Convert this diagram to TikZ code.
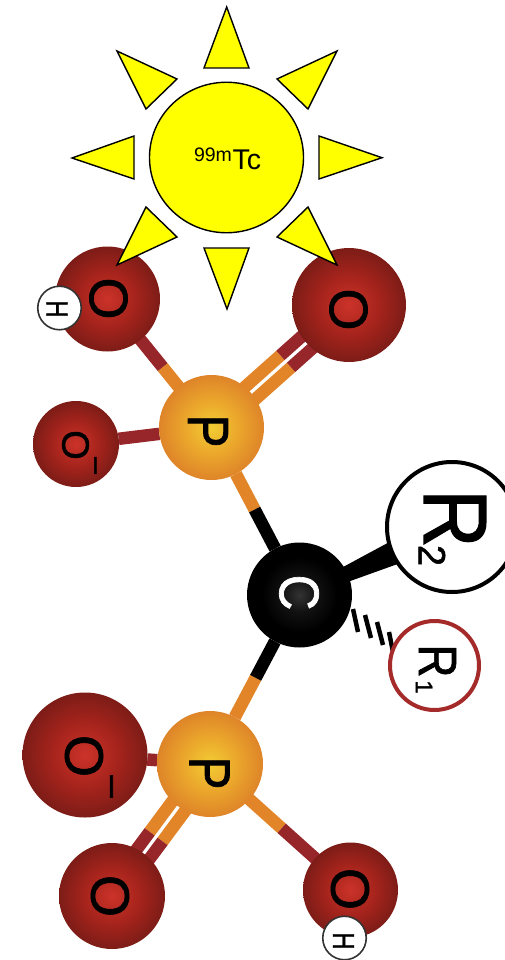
\documentclass[tikz,border=0pt]{standalone}
\usepackage{fontspec}
\setmainfont{Liberation Sans}
\newfontfamily\atomfont[FakeBold=1.3]{Liberation Sans}
\usetikzlibrary{calc,backgrounds,shapes.geometric}
\pgfdeclareradialshading{oball}{\pgfpoint{0bp}{0bp}}{rgb(0bp)=(.80,.20,.16); rgb(13bp)=(.65,.14,.11); rgb(25bp)=(.49,.11,.09); rgb(100bp)=(.49,.11,.09)}
\pgfdeclareradialshading{pball}{\pgfpoint{0bp}{0bp}}{rgb(0bp)=(.95,.80,.20); rgb(13bp)=(.92,.65,.17); rgb(25bp)=(.87,.52,.16); rgb(100bp)=(.87,.52,.16)}
\pgfdeclareradialshading{cball}{\pgfpoint{0bp}{0bp}}{rgb(0bp)=(.20,.20,.20); rgb(8bp)=(.07,.07,.07); rgb(18bp)=(0,0,0); rgb(100bp)=(0,0,0)}
\definecolor{obond}{RGB}{150,38,42}
\definecolor{pbond}{RGB}{226,133,40}
\definecolor{sunfill}{RGB}{255,255,0}
\definecolor{rone}{RGB}{165,42,42}
\tikzset{
  x=1pt,y=-1pt,
  atom/.style={circle,inner sep=0pt,outer sep=0pt,draw=none},
  oatom/.style={atom,shading=oball},
  patom/.style={atom,shading=pball},
  catom/.style={atom,shading=cball},
  hatom/.style={circle,inner sep=0pt,outer sep=0pt,draw=black!80,line width=1.6pt,fill=white,minimum size=43.5pt},
  glyph/.style={rotate=-90,inner sep=0pt,outer sep=0pt,text=black,font=\fontsize{#1}{#1}\selectfont\atomfont},
  bondline/.style={line width=12.5pt,line cap=butt},
  ray/.style={draw=black,line width=1.4pt,fill=sunfill,line join=miter},
  hash/.style={draw=black,line width=4.5pt,line cap=butt},
}
\newcommand{\bondseg}[4]{%
  \draw[bondline,pbond] ($(#1)!#4!90:(#2)$) -- ($($(#1)!#3!(#2)$)!#4!90:(#2)$);
  \draw[bondline,obond] ($($(#1)!#3!(#2)$)!#4!90:(#2)$) -- ($(#2)!#4!-90:(#1)$);
}
\begin{document}
\begin{tikzpicture}
\useasboundingbox (0,0) rectangle (505,960);
\clip (0,0) rectangle (505,960);
% atoms
\node[oatom,minimum size=105pt] (o1) at (107.5,299) {};
\node[oatom,minimum size=114pt] (o2) at (349,305) {};
\node[oatom,minimum size=86pt] (o3) at (76,444) {};
\node[patom,minimum size=105pt] (p1) at (211.5,427.5) {};
\node[catom,minimum size=105pt] (c) at (299.5,595) {};
\node[circle,inner sep=0pt,outer sep=0pt,draw=black,line width=4pt,fill=white,minimum size=130pt] (r2) at (452,527) {};
\node[circle,inner sep=0pt,outer sep=0pt,draw=rone,line width=4pt,fill=white,minimum size=89pt] (r1) at (434.5,665.5) {};
\node[patom,minimum size=106pt] (p2) at (210,764) {};
\node[oatom,minimum size=125pt] (o4) at (85,755) {};
\node[oatom,minimum size=106pt] (o5) at (112,896) {};
\node[oatom,minimum size=95pt] (o6) at (350.5,890) {};
\node[hatom] (h1) at (59.5,308) {};
\node[hatom] (h2) at (344.5,938) {};
% bonds
\begin{scope}[on background layer]
  \bondseg{p1}{o1}{.47}{0pt}
  \bondseg{p1}{o2}{.54}{8pt}
  \bondseg{p1}{o2}{.54}{-8pt}
  \draw[bondline,obond] (o3) -- (p1);
  \draw[bondline,obond] (o4) -- (p2);
  \bondseg{p2}{o5}{.55}{8pt}
  \bondseg{p2}{o5}{.55}{-8pt}
  \bondseg{p2}{o6}{.51}{0pt}
  \draw[bondline,pbond] (p1) -- ($(p1)!.49!(c)$) coordinate (m1);
  \draw[bondline,black] (m1) -- (c);
  \draw[bondline,pbond] (p2) -- ($(p2)!.51!(c)$) coordinate (m2);
  \draw[bondline,black] (m2) -- (c);
  \fill[black] ($(c)!4pt!90:(r2)$) -- ($(r2)!16.5pt!-90:(c)$) -- ($(r2)!16.5pt!90:(c)$) -- ($(c)!4pt!-90:(r2)$) -- cycle;
  \draw[hash] (353,609) -- (358,632);
  \draw[hash] (365,615) -- (371,638);
  \draw[hash] (377,622) -- (383,645);
  \draw[hash] (389,632) -- (393,652);
\end{scope}
% labels
\node[glyph=54] (to1) at (108.5,298.5) {O};
\node[glyph=54] (to2) at (348.5,309.5) {O};
\node[glyph=38] (to3) at (75.5,445) {O};
\node[glyph=54] (to4) at (84,756) {O};
\node[glyph=54] (to5) at (110,896) {O};
\node[glyph=54] (to6) at (350,889) {O};
\node[glyph=30] (tm3) at (92,465.5) {–};
\node[glyph=40] (tm4) at (107,786.5) {–};
\node[glyph=58] (tp1) at (208,431) {\scalebox{.85}[1]{P}};
\node[glyph=58] (tp2) at (209.5,773) {\scalebox{.85}[1]{P}};
\node[glyph=56,text=white] (tc) at (299,592.5) {\scalebox{.88}[1]{C}};
\node[glyph=30] (th1) at (57,309) {\scalebox{.8}[1]{H}};
\node[glyph=30] (th2) at (343.5,941) {\scalebox{.8}[1]{H}};
\node[glyph=90] (tr2) at (455,518.5) {\scalebox{.9}[1]{R}};
\node[glyph=38] (tr22) at (432,555.5) {2};
\node[glyph=54] (tr1) at (437.5,661) {\scalebox{.85}[1]{R}};
\node[glyph=24] (tr12) at (424,687) {1};
% sun
\path[ray] (226.7,7) -- (204,68) -- (249,68) -- cycle;
\path[ray] (337,51) -- (277,79) -- (308,109) -- cycle;
\path[ray] (382,157.7) -- (319,136) -- (319,179) -- cycle;
\path[ray] (337,265) -- (277,237) -- (308,207) -- cycle;
\path[ray] (227,309) -- (204,248) -- (249,248) -- cycle;
\path[ray] (117,265) -- (177,237) -- (146,207) -- cycle;
\path[ray] (72,158) -- (134,136) -- (134,179) -- cycle;
\path[ray] (117,51) -- (177,79) -- (146,109) -- cycle;
\node[ellipse,inner sep=0pt,outer sep=0pt,draw=black,line width=1.4pt,fill=sunfill,minimum width=154pt,minimum height=150.5pt] (sun) at (226.5,157.5) {};
\node[inner sep=0pt,outer sep=0pt,anchor=base west,font=\fontsize{19.5}{20}\selectfont] (t99) at (194,161) {99m};
\node[inner sep=0pt,outer sep=0pt,anchor=base west,font=\fontsize{28.5}{29}\selectfont] (ttc) at (232.5,170) {Tc};
\end{tikzpicture}
\end{document}
